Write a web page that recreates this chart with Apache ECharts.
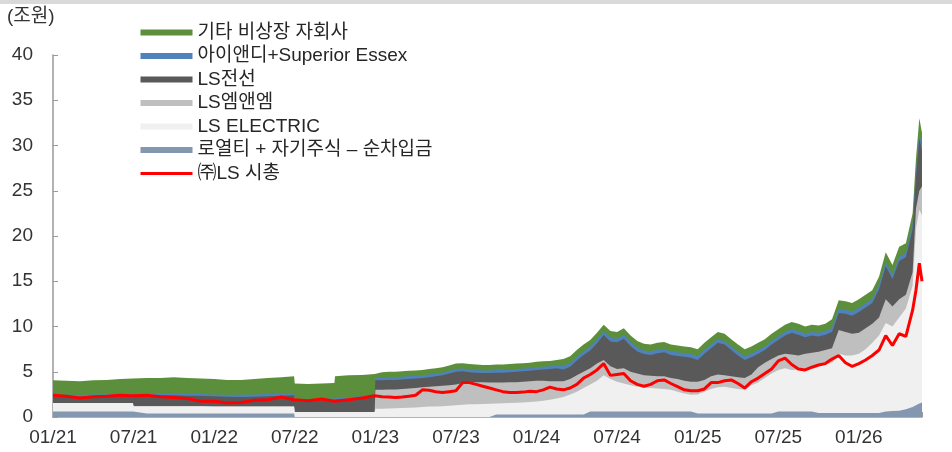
<!DOCTYPE html>
<html>
<head>
<meta charset="utf-8">
<script src="https://cdn.jsdelivr.net/npm/echarts@6/dist/echarts.min.js"></script>
<style>
  html, body { margin: 0; padding: 0; background: #fff; }
  #chart { width: 952px; height: 452px; }
</style>
</head>
<body>
<div id="chart"></div>
<script>
// x = months since 01/21
var months = [0, 1, 2, 3, 4, 5, 5.95,
  6, 7, 8, 9, 10, 11, 12, 13, 14, 15, 16, 17, 17.95,
  18, 19, 20, 20.95,
  21, 22, 23, 23.95,
  24, 24.5, 25, 25.5, 26, 26.5, 27, 27.5, 28, 28.5, 29, 29.5, 30, 30.5, 31, 31.5, 32, 32.5, 33, 33.5, 34, 34.5, 35, 35.5,
  36, 36.5, 37, 37.5, 38, 38.5, 39, 39.5, 40, 40.5, 41, 41.5, 42, 42.5, 43, 43.5, 44, 44.5, 45, 45.5, 46, 46.5, 47, 47.5,
  48, 48.5, 49, 49.5, 50, 50.5, 51, 51.5, 52, 52.5, 53, 53.5, 54, 54.5, 55, 55.5, 56, 56.5, 57, 57.5,
  58, 58.5, 59, 59.5, 60, 60.5, 61, 61.5, 62, 62.5, 63, 63.5, 64, 64.25, 64.5, 64.7];

var tickLabels = ['01/21', '07/21', '01/22', '07/22', '01/23', '07/23', '01/24', '07/24', '01/25', '07/25', '01/26'];

// cumulative level (top edge) of each band, 조원
var otherTop = [4.05, 4.0, 3.95, 4.05, 4.1, 4.2, 4.25,
  4.2, 4.3, 4.3, 4.4, 4.3, 4.25, 4.2, 4.1, 4.1, 4.2, 4.3, 4.4, 4.5,
  3.7, 3.65, 3.7, 3.75,
  4.5, 4.6, 4.65, 4.75,
  4.95, 4.95, 5.0, 5.0, 5.05, 5.1, 5.15, 5.2, 5.3, 5.4, 5.5, 5.7, 5.9, 5.95, 5.85, 5.8, 5.75, 5.75, 5.8, 5.8, 5.85, 5.9, 5.95, 6.0,
  6.1, 6.15, 6.2, 6.3, 6.4, 6.7, 7.4, 8.0, 8.5, 9.3, 10.2, 9.5, 9.4, 9.8, 9.0, 8.4, 8.1, 8.0, 8.2, 8.3, 8.0, 7.9, 7.8, 7.7,
  7.5, 8.2, 8.8, 9.4, 9.2, 8.6, 8.0, 7.5, 7.8, 8.2, 8.6, 9.2, 9.7, 10.2, 10.5, 10.3, 10.0, 10.2, 10.1, 10.3,
  10.8, 12.9, 12.8, 12.6, 13.0, 13.5, 14.0, 15.5, 18.2, 16.8, 18.8, 19.2, 22.5, 28.5, 33.0, 31.4];

var indTop = [2.5, 2.45, 2.45, 2.5, 2.5, 2.55, 2.55,
  2.55, 2.6, 2.6, 2.6, 2.55, 2.55, 2.5, 2.45, 2.45, 2.5, 2.55, 2.6, 2.6,
  1.9, 1.9, 2.0, 2.05,
  2.1, 2.2, 2.3, 2.35,
  4.35, 4.35, 4.4, 4.4, 4.45, 4.5, 4.55, 4.6, 4.7, 4.8, 4.9, 5.1, 5.3, 5.35, 5.25, 5.2, 5.15, 5.15, 5.2, 5.2, 5.25, 5.3, 5.35, 5.4,
  5.5, 5.55, 5.6, 5.7, 5.65, 5.95, 6.65, 7.25, 7.75, 8.55, 9.45, 8.75, 8.65, 9.05, 8.25, 7.65, 7.35, 7.25, 7.45, 7.55, 7.25, 7.15, 7.05, 6.95,
  6.7, 7.4, 8.0, 8.6, 8.4, 7.8, 7.2, 6.7, 7.0, 7.4, 7.8, 8.4, 8.9, 9.4, 9.7, 9.5, 9.2, 9.4, 9.3, 9.5,
  9.85, 11.95, 11.85, 11.65, 12.05, 12.55, 13.05, 14.55, 17.1, 15.7, 17.7, 18.1, 21.3, 27.1, 31.4, 29.9];

var cableTop = [2.3, 2.25, 2.25, 2.3, 2.3, 2.35, 2.35,
  2.35, 2.4, 2.4, 2.4, 2.35, 2.35, 2.3, 2.25, 2.2, 2.25, 2.3, 2.35, 2.4,
  1.75, 1.75, 1.85, 1.9,
  1.95, 2.05, 2.15, 2.2,
  4.05, 4.05, 4.1, 4.1, 4.15, 4.2, 4.25, 4.3, 4.4, 4.5, 4.6, 4.8, 5.0, 5.05, 4.95, 4.9, 4.85, 4.85, 4.9, 4.9, 4.95, 5.0, 5.05, 5.1,
  5.2, 5.25, 5.3, 5.4, 5.25, 5.55, 6.25, 6.85, 7.35, 8.15, 9.05, 8.35, 8.25, 8.65, 7.85, 7.25, 6.95, 6.85, 7.05, 7.15, 6.85, 6.75, 6.65, 6.55,
  6.3, 7.0, 7.6, 8.2, 8.0, 7.4, 6.8, 6.3, 6.6, 7.0, 7.4, 8.0, 8.5, 9.0, 9.3, 9.1, 8.8, 9.0, 8.9, 9.1,
  9.4, 11.5, 11.4, 11.2, 11.6, 12.1, 12.6, 14.1, 16.65, 15.25, 17.25, 17.65, 20.75, 26.55, 30.85, 29.35];

var mnmTop = [1.55, 1.55, 1.55, 1.55, 1.55, 1.55, 1.55,
  1.2, 1.2, 1.2, 1.2, 1.2, 1.2, 1.15, 1.15, 1.15, 1.15, 1.15, 1.15, 1.15,
  0.55, 0.55, 0.55, 0.55,
  0.55, 0.55, 0.55, 0.55,
  3.0, 3.0, 3.05, 3.05, 3.1, 3.15, 3.2, 3.3, 3.35, 3.4, 3.45, 3.5, 3.6, 3.75, 3.9, 3.85, 3.85, 3.8, 3.8, 3.8, 3.85, 3.85, 3.9, 3.95,
  4.0, 4.0, 3.95, 3.95, 3.95, 4.2, 4.6, 5.0, 5.4, 5.9, 6.3, 5.6, 5.3, 5.4, 5.0, 4.8, 4.6, 4.55, 4.5, 4.5, 4.3, 4.2, 4.0, 3.9,
  3.9, 4.1, 4.5, 4.7, 4.6, 4.5, 4.4, 4.3, 4.7, 5.5, 6.0, 6.4, 6.8, 7.0, 6.9, 6.8, 7.0, 7.1, 7.2, 7.4,
  7.6, 9.6, 9.4, 9.2, 9.3, 9.8, 10.3, 11.0, 13.0, 12.2, 13.0, 13.5, 16.0, 23.0, 25.0, 25.5];

var lseTop = [1.55, 1.55, 1.55, 1.55, 1.55, 1.55, 1.55,
  1.2, 1.2, 1.2, 1.2, 1.2, 1.2, 1.15, 1.15, 1.15, 1.15, 1.15, 1.15, 1.15,
  0.55, 0.55, 0.55, 0.55,
  0.55, 0.55, 0.55, 0.55,
  0.9, 0.92, 0.95, 0.97, 1.0, 1.02, 1.05, 1.1, 1.15, 1.17, 1.2, 1.25, 1.3, 1.35, 1.4, 1.42, 1.45, 1.47, 1.5, 1.52, 1.55, 1.57, 1.6, 1.65,
  1.7, 1.8, 1.9, 2.05, 2.2, 2.5, 2.8, 3.2, 3.6, 4.0, 4.6, 4.2, 3.9, 3.7, 3.5, 3.35, 3.25, 3.2, 3.15, 3.1, 3.0, 2.8, 2.6, 2.45,
  2.5, 2.8, 3.1, 3.3, 3.35, 3.2, 3.1, 3.0, 3.5, 3.8, 4.3, 4.8, 5.2, 5.4, 5.2, 5.2, 5.3, 5.5, 5.7, 5.8,
  6.0, 7.0, 6.8, 6.8, 7.0, 7.5, 8.2, 9.0, 10.4, 10.0, 11.0, 12.0, 14.5, 20.8, 22.9, 22.3];

var royaltyTop = [0.6, 0.6, 0.6, 0.6, 0.6, 0.6, 0.6,
  0.38, 0.38, 0.38, 0.38, 0.38, 0.38, 0.38, 0.38, 0.38, 0.38, 0.38, 0.38, 0.38,
  0, 0, 0, 0,
  0, 0, 0, 0,
  0, 0, 0, 0, 0, 0, 0, 0, 0, 0, 0, 0, 0, 0, 0, 0, 0, 0, 0.28, 0.28, 0.28, 0.28, 0.28, 0.28,
  0.28, 0.28, 0.28, 0.28, 0.28, 0.28, 0.28, 0.28, 0.6, 0.6, 0.6, 0.6, 0.6, 0.6, 0.6, 0.6, 0.6, 0.6, 0.6, 0.6, 0.6, 0.6, 0.6, 0.6,
  0.4, 0.4, 0.4, 0.4, 0.4, 0.4, 0.4, 0.4, 0.4, 0.4, 0.4, 0.4, 0.6, 0.6, 0.6, 0.6, 0.6, 0.6, 0.45, 0.45,
  0.45, 0.45, 0.45, 0.45, 0.45, 0.45, 0.45, 0.45, 0.6, 0.65, 0.7, 0.85, 1.1, 1.3, 1.5, 1.6];

var lsCap = [2.4, 2.3, 2.1, 2.25, 2.3, 2.4, 2.35,
  2.4, 2.4, 2.25, 2.15, 2.05, 1.75, 1.75, 1.55, 1.6, 1.85, 1.9, 2.2, 1.9,
  1.85, 1.8, 2.0, 1.75,
  1.75, 1.9, 2.1, 2.35,
  2.35, 2.25, 2.2, 2.15, 2.2, 2.3, 2.4, 3.0, 2.95, 2.8, 2.7, 2.8, 2.9, 3.8, 3.8, 3.6, 3.4, 3.2, 3.0, 2.8, 2.7, 2.7, 2.75, 2.85,
  2.8, 3.0, 3.3, 3.1, 3.0, 3.2, 3.6, 4.3, 4.7, 5.2, 5.9, 4.6, 4.7, 4.8, 4.0, 3.6, 3.4, 3.6, 4.0, 4.1, 3.7, 3.35, 3.0, 2.9,
  2.9, 3.1, 3.8, 3.8, 4.0, 4.1, 3.7, 3.2, 3.9, 4.3, 4.8, 5.3, 6.2, 6.5, 5.8, 5.3, 5.2, 5.5, 5.75, 5.9,
  6.4, 6.8, 6.0, 5.6, 5.9, 6.3, 6.8, 7.4, 9.0, 7.9, 9.2, 8.9, 11.8, 14.0, 17.0, 15.0];

var names = ['기타 비상장 자회사', '아이앤디+Superior Essex', 'LS전선', 'LS엠앤엠', 'LS ELECTRIC', '로열티 + 자기주식 – 순차입금', '㈜LS 시총'];
var colors = ['#5b8f3b', '#4f81bd', '#595959', '#bfbfbf', '#f0f0f0', '#8497b0', '#ff0000'];
var bands = [otherTop, indTop, cableTop, mnmTop, lseTop, royaltyTop];

var font = "'Liberation Sans', 'Noto Sans CJK KR', sans-serif";

function pairs(values) {
  return months.map(function (m, i) { return [m, values[i]]; });
}

// each band is filled down to 0 and drawn over the one above it
var series = bands.map(function (b, i) {
  return {
    name: names[i],
    type: 'line',
    data: pairs(b),
    symbol: 'none',
    color: colors[i],
    itemStyle: { color: colors[i] },
    lineStyle: { width: 0, opacity: 0 },
    areaStyle: { color: colors[i], opacity: 1 },
    z: 2
  };
});
series.push({
  name: names[6],
  type: 'line',
  data: pairs(lsCap),
  symbol: 'none',
  color: colors[6],
  itemStyle: { color: colors[6] },
  lineStyle: { color: colors[6], width: 3 },
  z: 3
});

var chart = echarts.init(document.getElementById('chart'));
chart.setOption({
  animation: false,
  backgroundColor: '#fff',
  graphic: [{
    type: 'rect',
    left: 0, top: 0,
    shape: { width: 952, height: 4 },
    style: { fill: '#d9d9d9' }
  }, {
    type: 'text',
    left: 7, top: 7,
    style: { text: '(조원)', font: '19px ' + font, fill: '#333' }
  }],
  legend: {
    orient: 'vertical',
    left: 139,
    top: 23,
    padding: 0,
    itemWidth: 52,
    itemHeight: 6,
    itemGap: 4.5,
    textStyle: { fontSize: 19, fontFamily: font, color: '#262626' },
    data: names.map(function (n, i) {
      if (i < 6) return { name: n, icon: 'rect', itemStyle: { color: colors[i], borderWidth: 0 } };
      return { name: n, itemStyle: { opacity: 0 }, lineStyle: { color: colors[i], width: 3 } };
    })
  },
  grid: { left: 53, right: 30, top: 55, bottom: 35 },
  xAxis: {
    type: 'value',
    min: 0,
    max: 64.7,
    interval: 6,
    splitLine: { show: false },
    axisLine: { lineStyle: { color: '#999', width: 1.5 } },
    axisTick: { show: true, inside: true, length: 5, lineStyle: { color: '#999' } },
    axisLabel: {
      margin: 11,
      fontSize: 19,
      fontFamily: font,
      color: '#333',
      formatter: function (v) {
        return v % 6 === 0 ? (tickLabels[v / 6] || '') : '';
      }
    }
  },
  yAxis: {
    type: 'value',
    min: 0,
    max: 40,
    interval: 5,
    splitLine: { show: false },
    axisLine: { show: true, lineStyle: { color: '#999', width: 1.5 } },
    axisTick: { show: true, inside: true, length: 5, lineStyle: { color: '#999' } },
    axisLabel: { margin: 20, fontSize: 19, fontFamily: font, color: '#333' }
  },
  series: series
});
</script>
</body>
</html>
